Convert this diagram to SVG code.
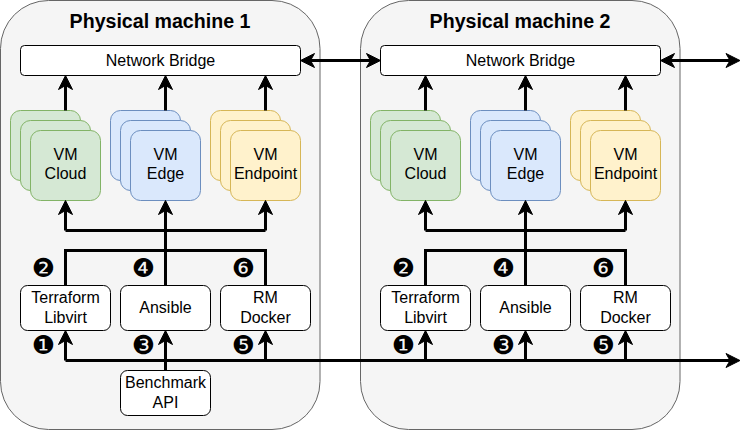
<svg xmlns="http://www.w3.org/2000/svg" width="751" height="431" viewBox="0 0 751 431">
<style>
.machine{fill:#f5f5f5;stroke:#666666;stroke-width:1}
.box{fill:#ffffff;stroke:#000000;stroke-width:1}
.green{fill:#d5e8d4;stroke:#82b366;stroke-width:1}
.blue{fill:#dae8fc;stroke:#6c8ebf;stroke-width:1}
.yellow{fill:#fff2cc;stroke:#d6b656;stroke-width:1}
.t{font-family:"Liberation Sans",Arial,sans-serif;font-size:16px;fill:#000;text-anchor:middle}
.title{font-family:"Liberation Sans",Arial,sans-serif;font-size:19.6px;font-weight:bold;fill:#000;text-anchor:middle}
.num{font-family:"DejaVu Sans",sans-serif;font-size:26px;fill:#000;text-anchor:middle;dominant-baseline:central}
.c{fill:none;stroke:#000;stroke-width:3}
.a{marker-end:url(#arr)}
.aa{marker-start:url(#arr);marker-end:url(#arr)}
</style>
<defs>
<marker id="arr" markerUnits="userSpaceOnUse" markerWidth="15" markerHeight="15" viewBox="0 0 15 15" refX="9" refY="7" orient="auto-start-reverse" overflow="visible">
<path d="M0,0 L14,7 L0,14 L4,7 Z" fill="#000" stroke="#000" stroke-width="1" stroke-linejoin="miter"/>
</marker>
</defs>

<g id="machine1">
<rect class="machine" x="0.5" y="0.5" width="319.5" height="429" rx="48" ry="48"/>
<text class="title" x="160" y="27.5">Physical machine 1</text>
</g>
<g id="machine2">
<rect class="machine" x="360.5" y="0.5" width="319.5" height="429" rx="48" ry="48"/>
<text class="title" x="520" y="27.5">Physical machine 2</text>
</g>

<g id="bridge1">
<rect class="box" x="20.5" y="45.5" width="280" height="30" rx="4"/>
<text class="t" x="160.5" y="65.5">Network Bridge</text>
</g>
<g id="bridge2">
<rect class="box" x="380.5" y="45.5" width="280" height="30" rx="4"/>
<text class="t" x="520.5" y="65.5">Network Bridge</text>
</g>

<g id="vmcloud1">
<rect class="green" x="10.5" y="110.5" width="70" height="70" rx="10"/>
<rect class="green" x="20.5" y="120.5" width="70" height="70" rx="10"/>
<rect class="green" x="30.5" y="130.5" width="70" height="70" rx="10"/>
<text class="t" x="65.5" y="159.5">VM</text>
<text class="t" x="65.5" y="179">Cloud</text>
</g>
<g id="vmedge1">
<rect class="blue" x="110.5" y="110.5" width="70" height="70" rx="10"/>
<rect class="blue" x="120.5" y="120.5" width="70" height="70" rx="10"/>
<rect class="blue" x="130.5" y="130.5" width="70" height="70" rx="10"/>
<text class="t" x="165.5" y="159.5">VM</text>
<text class="t" x="165.5" y="179">Edge</text>
</g>
<g id="vmendpoint1">
<rect class="yellow" x="210.5" y="110.5" width="70" height="70" rx="10"/>
<rect class="yellow" x="220.5" y="120.5" width="70" height="70" rx="10"/>
<rect class="yellow" x="230.5" y="130.5" width="70" height="70" rx="10"/>
<text class="t" x="265.5" y="159.5">VM</text>
<text class="t" x="265.5" y="179">Endpoint</text>
</g>
<g id="vmcloud2">
<rect class="green" x="370.5" y="110.5" width="70" height="70" rx="10"/>
<rect class="green" x="380.5" y="120.5" width="70" height="70" rx="10"/>
<rect class="green" x="390.5" y="130.5" width="70" height="70" rx="10"/>
<text class="t" x="425.5" y="159.5">VM</text>
<text class="t" x="425.5" y="179">Cloud</text>
</g>
<g id="vmedge2">
<rect class="blue" x="470.5" y="110.5" width="70" height="70" rx="10"/>
<rect class="blue" x="480.5" y="120.5" width="70" height="70" rx="10"/>
<rect class="blue" x="490.5" y="130.5" width="70" height="70" rx="10"/>
<text class="t" x="525.5" y="159.5">VM</text>
<text class="t" x="525.5" y="179">Edge</text>
</g>
<g id="vmendpoint2">
<rect class="yellow" x="570.5" y="110.5" width="70" height="70" rx="10"/>
<rect class="yellow" x="580.5" y="120.5" width="70" height="70" rx="10"/>
<rect class="yellow" x="590.5" y="130.5" width="70" height="70" rx="10"/>
<text class="t" x="625.5" y="159.5">VM</text>
<text class="t" x="625.5" y="179">Endpoint</text>
</g>

<g id="terraform1">
<rect class="box" x="20.5" y="285.5" width="90" height="45" rx="7"/>
<text class="t" x="65.5" y="303">Terraform</text>
<text class="t" x="65.5" y="322.5">Libvirt</text>
</g>
<g id="ansible1">
<rect class="box" x="120.5" y="285.5" width="90" height="45" rx="7"/>
<text class="t" x="165.5" y="313">Ansible</text>
</g>
<g id="rmdocker1">
<rect class="box" x="220.5" y="285.5" width="90" height="45" rx="7"/>
<text class="t" x="265.5" y="303">RM</text>
<text class="t" x="265.5" y="322.5">Docker</text>
</g>
<g id="terraform2">
<rect class="box" x="380.5" y="285.5" width="90" height="45" rx="7"/>
<text class="t" x="425.5" y="303">Terraform</text>
<text class="t" x="425.5" y="322.5">Libvirt</text>
</g>
<g id="ansible2">
<rect class="box" x="480.5" y="285.5" width="90" height="45" rx="7"/>
<text class="t" x="525.5" y="313">Ansible</text>
</g>
<g id="rmdocker2">
<rect class="box" x="580.5" y="285.5" width="90" height="45" rx="7"/>
<text class="t" x="625.5" y="303">RM</text>
<text class="t" x="625.5" y="322.5">Docker</text>
</g>
<g id="benchmark">
<rect class="box" x="120.5" y="370.5" width="90" height="45" rx="7"/>
<text class="t" x="165.5" y="388">Benchmark</text>
<text class="t" x="165.5" y="407.5">API</text>
</g>

<g id="connectors">
<line class="c aa" x1="305.5" y1="60.5" x2="375.5" y2="60.5"/>
<line class="c aa" x1="665.5" y1="60.5" x2="735" y2="60.5"/>
<line class="c a" x1="65.5" y1="110.5" x2="65.5" y2="80.5"/>
<line class="c a" x1="165.5" y1="110.5" x2="165.5" y2="80.5"/>
<line class="c a" x1="265.5" y1="110.5" x2="265.5" y2="80.5"/>
<line class="c a" x1="425.5" y1="110.5" x2="425.5" y2="80.5"/>
<line class="c a" x1="525.5" y1="110.5" x2="525.5" y2="80.5"/>
<line class="c a" x1="625.5" y1="110.5" x2="625.5" y2="80.5"/>
<path class="c" d="M65.5,230.5 H265.5"/>
<line class="c a" x1="65.5" y1="230.5" x2="65.5" y2="205.5"/>
<line class="c a" x1="265.5" y1="230.5" x2="265.5" y2="205.5"/>
<line class="c a" x1="165.5" y1="285.5" x2="165.5" y2="205.5"/>
<path class="c" d="M65.5,285.5 V250.5 H265.5 V285.5"/>
<path class="c" d="M425.5,230.5 H625.5"/>
<line class="c a" x1="425.5" y1="230.5" x2="425.5" y2="205.5"/>
<line class="c a" x1="625.5" y1="230.5" x2="625.5" y2="205.5"/>
<line class="c a" x1="525.5" y1="285.5" x2="525.5" y2="205.5"/>
<path class="c" d="M425.5,285.5 V250.5 H625.5 V285.5"/>
<line class="c a" x1="165.5" y1="370.5" x2="165.5" y2="335.5"/>
<path class="c a" d="M65.5,360.5 V335.5"/>
<path class="c a" d="M265.5,360.5 V335.5"/>
<path class="c a" d="M425.5,360.5 V335.5"/>
<path class="c a" d="M525.5,360.5 V335.5"/>
<path class="c a" d="M625.5,360.5 V335.5"/>
<path class="c a" d="M65.5,360.5 H735"/>
</g>

<g id="steps">
<text class="num" x="43.5" y="268">❷</text>
<text class="num" x="143.5" y="268">❹</text>
<text class="num" x="243.5" y="268">❻</text>
<text class="num" x="43.5" y="345">❶</text>
<text class="num" x="143.5" y="345">❸</text>
<text class="num" x="243.5" y="345">❺</text>
<text class="num" x="403.5" y="268">❷</text>
<text class="num" x="503.5" y="268">❹</text>
<text class="num" x="603.5" y="268">❻</text>
<text class="num" x="403.5" y="345">❶</text>
<text class="num" x="503.5" y="345">❸</text>
<text class="num" x="603.5" y="345">❺</text>
</g>
</svg>
